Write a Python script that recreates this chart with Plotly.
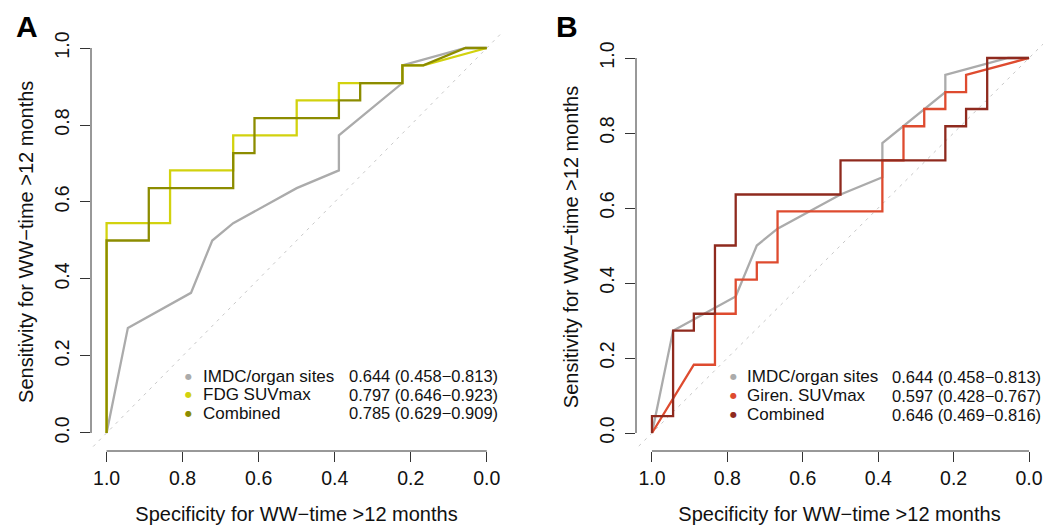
import plotly.graph_objects as go

# ---------------- data ----------------
# Panel A
imdc_spec = [1.000, 0.944, 0.778, 0.722, 0.667, 0.500, 0.389, 0.389, 0.222, 0.222, 0.056, 0.000]
imdc_sens = [0.000, 0.273, 0.364, 0.500, 0.545, 0.636, 0.682, 0.773, 0.909, 0.955, 1.000, 1.000]

fdg_spec = [1.0, 1.0, 0.833, 0.833, 0.667, 0.667, 0.500, 0.500, 0.389, 0.389, 0.222, 0.222, 0.167, 0.0]
fdg_sens = [0.0, 0.545, 0.545, 0.682, 0.682, 0.773, 0.773, 0.864, 0.864, 0.909, 0.909, 0.955, 0.955, 1.0]

combA_spec = [1.0, 1.0, 0.889, 0.889, 0.667, 0.667, 0.611, 0.611, 0.389, 0.389, 0.333, 0.333,
              0.222, 0.222, 0.167, 0.056, 0.0]
combA_sens = [0.0, 0.500, 0.500, 0.636, 0.636, 0.727, 0.727, 0.818, 0.818, 0.864, 0.864, 0.909,
              0.909, 0.955, 0.955, 1.0, 1.0]

# Panel B
giren_spec = [1.0, 0.889, 0.833, 0.833, 0.778, 0.778, 0.722, 0.722, 0.667, 0.667, 0.389, 0.389,
              0.333, 0.333, 0.278, 0.278, 0.222, 0.222, 0.167, 0.167, 0.0]
giren_sens = [0.0, 0.182, 0.182, 0.318, 0.318, 0.409, 0.409, 0.455, 0.455, 0.591, 0.591, 0.727,
              0.727, 0.818, 0.818, 0.864, 0.864, 0.909, 0.909, 0.955, 1.0]

combB_spec = [1.0, 1.0, 0.944, 0.944, 0.889, 0.889, 0.833, 0.833, 0.778, 0.778, 0.500, 0.500,
              0.222, 0.222, 0.167, 0.167, 0.111, 0.111, 0.0]
combB_sens = [0.0, 0.045, 0.045, 0.273, 0.273, 0.318, 0.318, 0.500, 0.500, 0.636, 0.636, 0.727,
              0.727, 0.818, 0.818, 0.864, 0.864, 1.0, 1.0]

legend_A = ["IMDC/organ sites", "FDG SUVmax", "Combined"]
auc_A = ["0.644 (0.458\u22120.813)", "0.797 (0.646\u22120.923)", "0.785 (0.629\u22120.909)"]
legend_B = ["IMDC/organ sites", "Giren. SUVmax", "Combined"]
auc_B = ["0.644 (0.458\u22120.813)", "0.597 (0.428\u22120.767)", "0.646 (0.469\u22120.816)"]

tick_vals = [0.0, 0.2, 0.4, 0.6, 0.8, 1.0]
tick_text = ["0.0", "0.2", "0.4", "0.6", "0.8", "1.0"]

x_title = "Specificity for WW\u2212time >12 months"
y_title = "Sensitivity for WW\u2212time >12 months"

# ---------------- style ----------------
W, H = 1043, 525
FONT = "Liberation Sans, Arial, Helvetica, sans-serif"
col_gray = "#ABABAB"
col_yellow = "#D2D20E"
col_olive = "#8C8C00"
col_red = "#DE4B2F"
col_dred = "#8F2A1E"
AX = "#333333"


def px(x):
    return x / W


def py(y):
    return 1 - y / H


fig = go.Figure()

panels = [
    dict(xa="x", ya="y", series=[(imdc_spec, imdc_sens, col_gray),
                                 (fdg_spec, fdg_sens, col_yellow),
                                 (combA_spec, combA_sens, col_olive)]),
    dict(xa="x2", ya="y2", series=[(imdc_spec, imdc_sens, col_gray),
                                   (giren_spec, giren_sens, col_red),
                                   (combB_spec, combB_sens, col_dred)]),
]

for p in panels:
    # diagonal reference line
    fig.add_trace(go.Scatter(x=[1.05, -0.05], y=[-0.05, 1.05], mode="lines",
                             line=dict(color="#C8C8C8", width=1, dash="3px,5px"),
                             xaxis=p["xa"], yaxis=p["ya"], showlegend=False, hoverinfo="skip"))
    for xs, ys, c in p["series"]:
        fig.add_trace(go.Scatter(x=xs, y=ys, mode="lines", line=dict(color=c, width=2.3),
                                 xaxis=p["xa"], yaxis=p["ya"], showlegend=False))

# axis geometry (pixels)
A_x0, A_x1, A_yb, A_yt = 91, 502, 451, 32.6
B_x0, B_x1, B_yb, B_yt = 636, 1043, 451, 43

common_x = dict(tickvals=tick_vals, ticktext=tick_text, ticks="outside", ticklen=10, tickwidth=1,
                tickcolor=AX, showline=False, showgrid=False, zeroline=False,
                tickfont=dict(size=19.5, color="#111111", family=FONT),
                title=dict(text=x_title, font=dict(size=20, color="#111111", family=FONT), standoff=19),
                automargin=False)
common_y = dict(tickvals=tick_vals, ticktext=tick_text, ticks="outside", ticklen=10, tickwidth=1,
                tickcolor=AX, showline=False, showgrid=False, zeroline=False, tickangle=-90,
                ticklabelstandoff=3,
                tickfont=dict(size=19.5, color="#111111", family=FONT),
                title=dict(text=y_title, font=dict(size=20, color="#111111", family=FONT), standoff=12),
                automargin=False)

fig.update_layout(
    width=W, height=H, margin=dict(l=0, r=0, t=0, b=0),
    plot_bgcolor="white", paper_bgcolor="white",
    font=dict(family=FONT, color="#111111"),
    xaxis=dict(domain=[px(A_x0), px(A_x1)], range=[1.041, -0.040], anchor="y", **common_x),
    yaxis=dict(domain=[py(A_yb), py(A_yt)], range=[-0.0468, 1.040], anchor="x", **common_y),
    xaxis2=dict(domain=[px(B_x0), px(B_x1)], range=[1.0424, -0.037], anchor="y2", **common_x),
    yaxis2=dict(domain=[py(B_yb), py(B_yt)], range=[-0.048, 1.040], anchor="x2", **common_y),
)

shapes = []
for xr, yr, xl, yb in [("x", "y", A_x0, A_yb), ("x2", "y2", B_x0, B_yb)]:
    shapes.append(dict(type="line", xref=xr, yref="paper", x0=1, x1=0, y0=py(yb), y1=py(yb),
                       line=dict(color=AX, width=1)))
    shapes.append(dict(type="line", xref="paper", yref=yr, x0=px(xl), x1=px(xl), y0=0, y1=1,
                       line=dict(color=AX, width=1)))
fig.update_layout(shapes=shapes)

annotations = []
# panel letters
annotations.append(dict(text="<b>A</b>", x=px(27), y=py(27), xref="paper", yref="paper",
                        xanchor="center", yanchor="middle",
                        showarrow=False, font=dict(size=30, family=FONT, color="black")))
annotations.append(dict(text="<b>B</b>", x=px(567), y=py(27), xref="paper", yref="paper",
                        xanchor="center", yanchor="middle",
                        showarrow=False, font=dict(size=30, family=FONT, color="black")))

# legends
legA_rows = [376, 394.5, 413]
legB_rows = [376.5, 395.5, 414.5]
for names, aucs, cols, rows, xb, xt, xv in [
    (legend_A, auc_A, [col_gray, col_yellow, col_olive], legA_rows, 188, 201, 346.5),
    (legend_B, auc_B, [col_gray, col_red, col_dred], legB_rows, 733, 745, 889.5),
]:
    for n, a, c, r in zip(names, aucs, cols, rows):
        annotations.append(dict(text="\u25CF", x=px(xb), y=py(r), xref="paper", yref="paper",
                                showarrow=False, xanchor="center", yanchor="middle",
                                font=dict(size=8, color=c, family="DejaVu Sans")))
        annotations.append(dict(text=n, x=px(xt), y=py(r), xref="paper", yref="paper",
                                showarrow=False, xanchor="left", yanchor="middle",
                                font=dict(size=17, color="#111111", family=FONT)))
        annotations.append(dict(text=a, x=px(xv), y=py(r), xref="paper", yref="paper",
                                showarrow=False, xanchor="left", yanchor="middle",
                                font=dict(size=16.5, color="#111111", family=FONT)))
fig.update_layout(annotations=annotations)

fig.write_html("out.html", config={"displayModeBar": False},
               post_script="document.body.style.margin='0';document.body.style.padding='0';"
                           "document.documentElement.style.overflow='hidden';")
